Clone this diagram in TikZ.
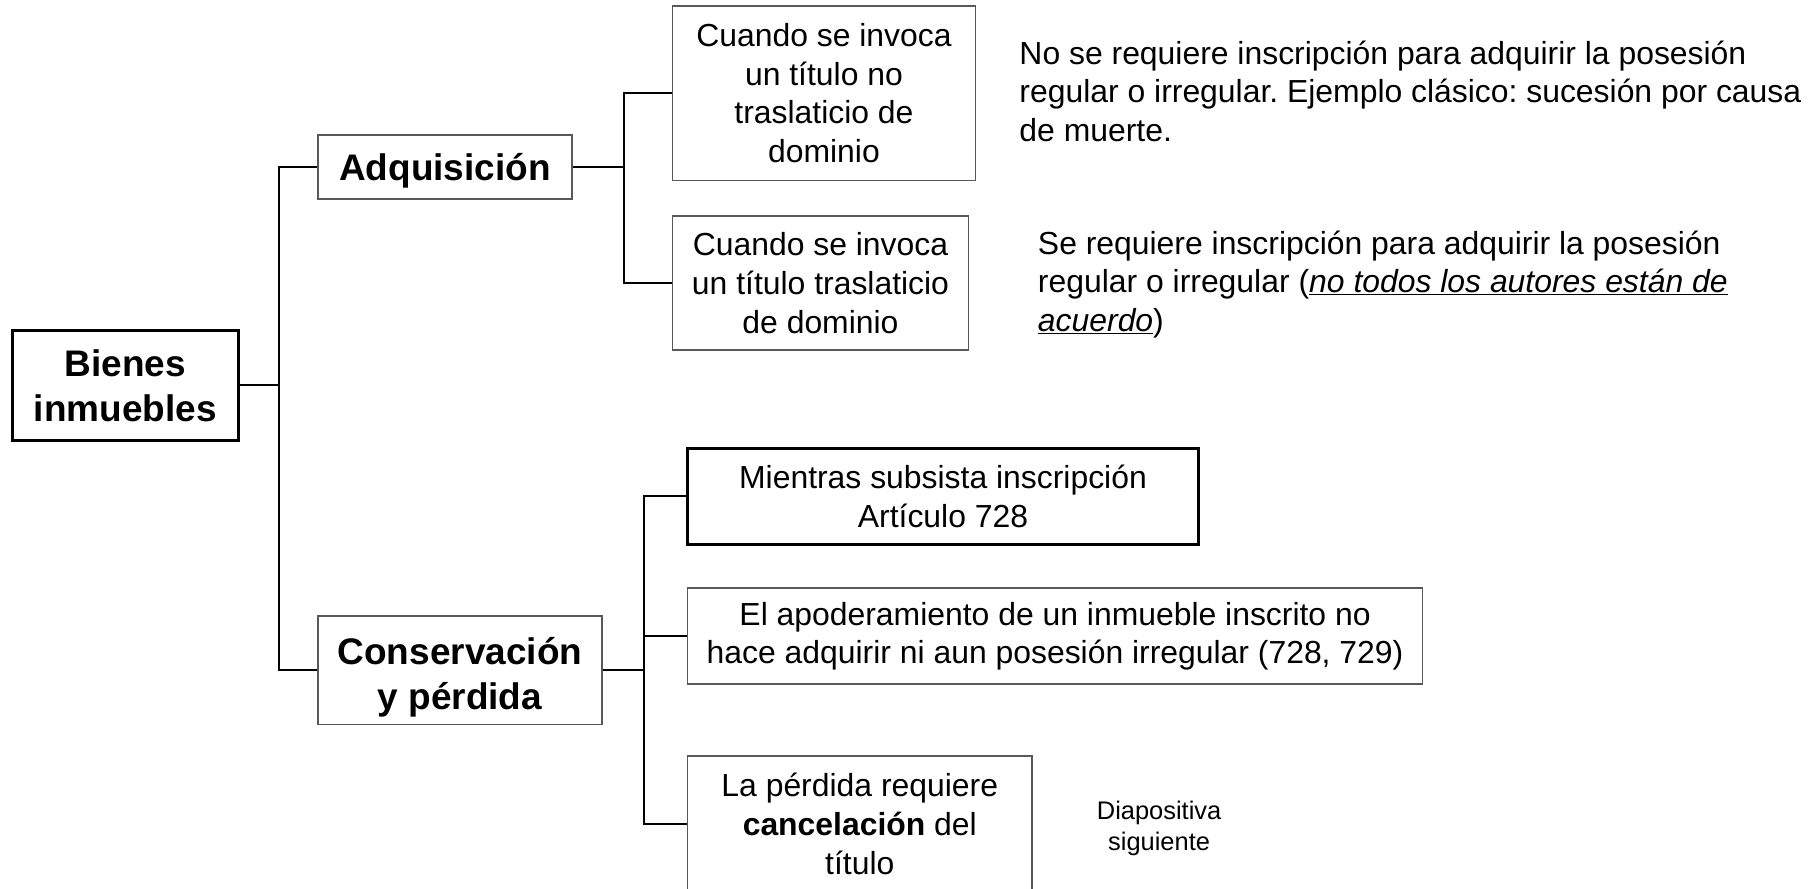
\documentclass[tikz,border=0pt]{standalone}
\usepackage{fontspec}
\setmainfont{Liberation Sans}
\frenchspacing
\begin{document}
\begin{tikzpicture}[x=1pt,y=-1pt,
 box/.style={rectangle, inner sep=0pt, align=center, font=\fontsize{27.6}{33.4}\selectfont},
 thinbox/.style={box, draw=black!65, line width=1.3pt},
 thickbox/.style={box, draw=black, line width=2.6pt},
 head/.style={font=\fontsize{32}{39}\selectfont\bfseries},
 conn/.style={draw=black, line width=1.8pt},
 note/.style={inner sep=0pt, align=left, anchor=west, font=\fontsize{27.6}{33.4}\selectfont\frenchspacing},
 smalltxt/.style={inner sep=0pt, align=center, font=\fontsize{22}{27}\selectfont}]
\clip (0,0) rectangle (1568,769);
\fill[white] (0,0) rectangle (1568,769);
% main nodes
\node[thickbox, head, minimum width=195pt, minimum height=95pt] (bienes) at (108.5,333.5) {Bienes\\inmuebles};
\node[thinbox, head, minimum width=220pt, minimum height=55pt, text depth=0pt] (adq) at (385,144.5) {Adquisición};
\node[thinbox, head, minimum width=246pt, minimum height=94pt] (cons) at (398,580) {\rule{0pt}{36pt}Conservación\\y pérdida};
% adquisicion children
\node[thinbox, minimum width=262pt, minimum height=151pt] (c1) at (713,80.5) {Cuando se invoca\\un título no\\traslaticio de\\dominio};
\node[thinbox, minimum width=256pt, minimum height=116pt] (c2) at (710,245) {Cuando se invoca\\un título traslaticio\\de dominio};
% notes
\node[note] (n1) at (882,79) {No se requiere inscripción para adquirir la posesión\\regular o irregular. Ejemplo clásico: sucesión por causa\\de muerte.};
\node[note] (n2) at (898,246) {Se requiere inscripción para adquirir la posesión\\regular o irregular (\underline{\textit{no todos los autores están de}}\\\underline{\textit{acuerdo}})};
% conservacion children
\node[thickbox, line width=2.2pt, minimum width=442pt, minimum height=83pt] (ca) at (816,429.5) {Mientras subsista inscripción\\Artículo 728};
\node[thinbox, minimum width=636pt, minimum height=83pt] (cb) at (913,550.5) {El apoderamiento de un inmueble inscrito no\\hace adquirir ni aun posesión irregular (728, 729)};
\node[thinbox, minimum width=298pt, minimum height=118pt] (cc) at (744,713) {La pérdida requiere\\\textbf{cancelación} del\\título};
\node[smalltxt] (diap) at (1003,717) {Diapositiva\\siguiente};
% connectors
\draw[conn] (bienes.east) -- +(34,0) |- (adq.west);
\draw[conn] (bienes.east) -- +(34,0) |- (cons.west);
\draw[conn] (adq.east) -- +(44,0) |- (c1.west);
\draw[conn] (adq.east) -- +(44,0) |- (c2.west);
\draw[conn] (cons.east) -- +(36,0) |- (ca.west);
\draw[conn] (cons.east) -- +(36,0) |- (cb.west);
\draw[conn] (cons.east) -- +(36,0) |- (cc.west);
\end{tikzpicture}
\end{document}
